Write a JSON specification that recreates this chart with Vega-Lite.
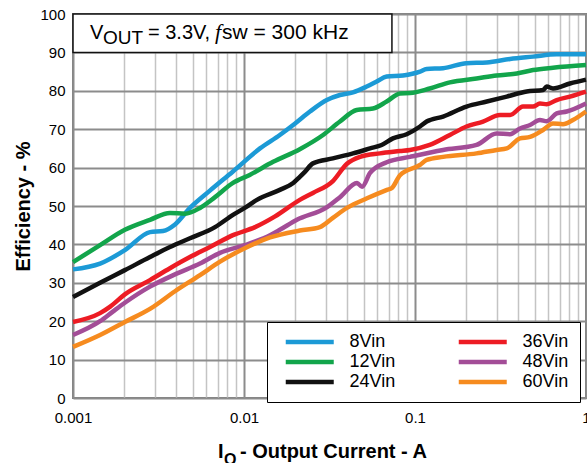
{
  "$schema": "https://vega.github.io/schema/vega-lite/v6.json",
  "width": 513,
  "height": 384,
  "autosize": {"type": "none"},
  "padding": {"left": 73, "top": 14, "right": 1, "bottom": 65},
  "background": "white",
  "config": {
    "view": {"stroke": "#808080", "strokeWidth": 2},
    "font": "Liberation Sans",
    "axis": {"labelColor": "black", "titleColor": "black", "labelFont": "Liberation Sans", "titleFont": "Liberation Sans"}
  },
  "datasets": {
    "curves": [
      {"s": "8Vin", "x": 0.001, "y": 33.5}, {"s": "8Vin", "x": 0.00144, "y": 35.0}, {"s": "8Vin", "x": 0.00201, "y": 38.5},
      {"s": "8Vin", "x": 0.00282, "y": 43.2}, {"s": "8Vin", "x": 0.00336, "y": 43.5}, {"s": "8Vin", "x": 0.00395, "y": 45.2},
      {"s": "8Vin", "x": 0.00483, "y": 49.5}, {"s": "8Vin", "x": 0.00632, "y": 54.0}, {"s": "8Vin", "x": 0.00862, "y": 59.0},
      {"s": "8Vin", "x": 0.0124, "y": 65.0}, {"s": "8Vin", "x": 0.0162, "y": 68.5}, {"s": "8Vin", "x": 0.0199, "y": 71.5},
      {"s": "8Vin", "x": 0.0243, "y": 74.6}, {"s": "8Vin", "x": 0.0305, "y": 77.6}, {"s": "8Vin", "x": 0.0364, "y": 78.9},
      {"s": "8Vin", "x": 0.0434, "y": 79.6}, {"s": "8Vin", "x": 0.0522, "y": 81.1}, {"s": "8Vin", "x": 0.0597, "y": 82.4},
      {"s": "8Vin", "x": 0.0683, "y": 83.7}, {"s": "8Vin", "x": 0.0851, "y": 84.0}, {"s": "8Vin", "x": 0.107, "y": 85.0},
      {"s": "8Vin", "x": 0.117, "y": 85.7}, {"s": "8Vin", "x": 0.146, "y": 85.9}, {"s": "8Vin", "x": 0.2, "y": 87.2},
      {"s": "8Vin", "x": 0.263, "y": 87.4}, {"s": "8Vin", "x": 0.36, "y": 88.3}, {"s": "8Vin", "x": 0.49, "y": 88.9},
      {"s": "8Vin", "x": 0.674, "y": 89.5}, {"s": "8Vin", "x": 1.0, "y": 89.5},

      {"s": "12Vin", "x": 0.001, "y": 35.4}, {"s": "12Vin", "x": 0.00144, "y": 39.8}, {"s": "12Vin", "x": 0.00201, "y": 43.8},
      {"s": "12Vin", "x": 0.00282, "y": 46.4}, {"s": "12Vin", "x": 0.00369, "y": 48.2}, {"s": "12Vin", "x": 0.00452, "y": 48.0},
      {"s": "12Vin", "x": 0.00553, "y": 49.5}, {"s": "12Vin", "x": 0.00677, "y": 52.3}, {"s": "12Vin", "x": 0.00862, "y": 56.0},
      {"s": "12Vin", "x": 0.0108, "y": 58.1}, {"s": "12Vin", "x": 0.0148, "y": 61.5}, {"s": "12Vin", "x": 0.0212, "y": 64.8},
      {"s": "12Vin", "x": 0.029, "y": 68.5}, {"s": "12Vin", "x": 0.0364, "y": 72.0}, {"s": "12Vin", "x": 0.0456, "y": 75.0},
      {"s": "12Vin", "x": 0.0568, "y": 75.4}, {"s": "12Vin", "x": 0.0683, "y": 77.2}, {"s": "12Vin", "x": 0.0817, "y": 79.3},
      {"s": "12Vin", "x": 0.0935, "y": 79.4}, {"s": "12Vin", "x": 0.122, "y": 80.6}, {"s": "12Vin", "x": 0.16, "y": 82.2},
      {"s": "12Vin", "x": 0.229, "y": 83.2}, {"s": "12Vin", "x": 0.3, "y": 84.0}, {"s": "12Vin", "x": 0.394, "y": 84.5},
      {"s": "12Vin", "x": 0.49, "y": 85.4}, {"s": "12Vin", "x": 0.641, "y": 86.0}, {"s": "12Vin", "x": 1.0, "y": 86.7},

      {"s": "24Vin", "x": 0.001, "y": 26.3}, {"s": "24Vin", "x": 0.00144, "y": 30.0}, {"s": "24Vin", "x": 0.00201, "y": 33.3},
      {"s": "24Vin", "x": 0.00282, "y": 36.7}, {"s": "24Vin", "x": 0.00369, "y": 39.3}, {"s": "24Vin", "x": 0.00483, "y": 41.6},
      {"s": "24Vin", "x": 0.00677, "y": 44.5}, {"s": "24Vin", "x": 0.00862, "y": 47.7}, {"s": "24Vin", "x": 0.0101, "y": 49.5},
      {"s": "24Vin", "x": 0.0119, "y": 51.6}, {"s": "24Vin", "x": 0.0162, "y": 54.2}, {"s": "24Vin", "x": 0.0194, "y": 56.0},
      {"s": "24Vin", "x": 0.0212, "y": 57.6}, {"s": "24Vin", "x": 0.0227, "y": 58.9}, {"s": "24Vin", "x": 0.0253, "y": 61.1},
      {"s": "24Vin", "x": 0.0331, "y": 62.4}, {"s": "24Vin", "x": 0.0434, "y": 63.7}, {"s": "24Vin", "x": 0.0546, "y": 65.0},
      {"s": "24Vin", "x": 0.0638, "y": 65.9}, {"s": "24Vin", "x": 0.0743, "y": 67.6}, {"s": "24Vin", "x": 0.0894, "y": 68.7},
      {"s": "24Vin", "x": 0.107, "y": 70.7}, {"s": "24Vin", "x": 0.117, "y": 72.0}, {"s": "24Vin", "x": 0.146, "y": 73.3},
      {"s": "24Vin", "x": 0.2, "y": 75.9}, {"s": "24Vin", "x": 0.263, "y": 77.2}, {"s": "24Vin", "x": 0.344, "y": 78.5},
      {"s": "24Vin", "x": 0.45, "y": 79.8}, {"s": "24Vin", "x": 0.561, "y": 80.2}, {"s": "24Vin", "x": 0.589, "y": 81.1},
      {"s": "24Vin", "x": 0.641, "y": 80.6}, {"s": "24Vin", "x": 0.806, "y": 81.9}, {"s": "24Vin", "x": 1.0, "y": 82.9},

      {"s": "36Vin", "x": 0.001, "y": 19.8}, {"s": "36Vin", "x": 0.00144, "y": 22.1}, {"s": "36Vin", "x": 0.00165, "y": 23.8},
      {"s": "36Vin", "x": 0.00201, "y": 27.0}, {"s": "36Vin", "x": 0.00282, "y": 30.7}, {"s": "36Vin", "x": 0.00369, "y": 33.8},
      {"s": "36Vin", "x": 0.00483, "y": 36.7}, {"s": "36Vin", "x": 0.00632, "y": 39.3}, {"s": "36Vin", "x": 0.00862, "y": 42.4},
      {"s": "36Vin", "x": 0.0116, "y": 44.5}, {"s": "36Vin", "x": 0.0152, "y": 47.3}, {"s": "36Vin", "x": 0.0212, "y": 51.6},
      {"s": "36Vin", "x": 0.0253, "y": 53.4}, {"s": "36Vin", "x": 0.0331, "y": 56.5}, {"s": "36Vin", "x": 0.04, "y": 61.0},
      {"s": "36Vin", "x": 0.0477, "y": 62.8}, {"s": "36Vin", "x": 0.0624, "y": 63.7}, {"s": "36Vin", "x": 0.0817, "y": 64.3},
      {"s": "36Vin", "x": 0.0935, "y": 64.6}, {"s": "36Vin", "x": 0.122, "y": 65.9}, {"s": "36Vin", "x": 0.16, "y": 68.5},
      {"s": "36Vin", "x": 0.2, "y": 70.7}, {"s": "36Vin", "x": 0.25, "y": 72.0}, {"s": "36Vin", "x": 0.314, "y": 73.7},
      {"s": "36Vin", "x": 0.36, "y": 73.7}, {"s": "36Vin", "x": 0.428, "y": 75.9}, {"s": "36Vin", "x": 0.49, "y": 75.9},
      {"s": "36Vin", "x": 0.538, "y": 76.7}, {"s": "36Vin", "x": 0.589, "y": 76.5}, {"s": "36Vin", "x": 0.674, "y": 77.6},
      {"s": "36Vin", "x": 0.806, "y": 78.5}, {"s": "36Vin", "x": 1.0, "y": 79.8},

      {"s": "48Vin", "x": 0.001, "y": 16.4}, {"s": "48Vin", "x": 0.00144, "y": 20.0}, {"s": "48Vin", "x": 0.00171, "y": 22.5},
      {"s": "48Vin", "x": 0.00201, "y": 24.8}, {"s": "48Vin", "x": 0.00282, "y": 29.0}, {"s": "48Vin", "x": 0.00395, "y": 32.2},
      {"s": "48Vin", "x": 0.00553, "y": 35.0}, {"s": "48Vin", "x": 0.00724, "y": 37.8}, {"s": "48Vin", "x": 0.0101, "y": 39.8},
      {"s": "48Vin", "x": 0.0142, "y": 42.4}, {"s": "48Vin", "x": 0.0162, "y": 43.8}, {"s": "48Vin", "x": 0.0204, "y": 46.4},
      {"s": "48Vin", "x": 0.0306, "y": 49.7}, {"s": "48Vin", "x": 0.0364, "y": 52.3}, {"s": "48Vin", "x": 0.0458, "y": 56.0},
      {"s": "48Vin", "x": 0.049, "y": 55.0}, {"s": "48Vin", "x": 0.0546, "y": 58.6}, {"s": "48Vin", "x": 0.0683, "y": 61.4},
      {"s": "48Vin", "x": 0.0935, "y": 62.8}, {"s": "48Vin", "x": 0.146, "y": 64.6}, {"s": "48Vin", "x": 0.229, "y": 65.9},
      {"s": "48Vin", "x": 0.3, "y": 68.9}, {"s": "48Vin", "x": 0.36, "y": 68.7}, {"s": "48Vin", "x": 0.411, "y": 70.2},
      {"s": "48Vin", "x": 0.471, "y": 71.1}, {"s": "48Vin", "x": 0.538, "y": 72.4}, {"s": "48Vin", "x": 0.589, "y": 72.1},
      {"s": "48Vin", "x": 0.674, "y": 74.1}, {"s": "48Vin", "x": 0.771, "y": 74.6}, {"s": "48Vin", "x": 1.0, "y": 76.7},

      {"s": "60Vin", "x": 0.001, "y": 13.3}, {"s": "60Vin", "x": 0.00144, "y": 16.4}, {"s": "60Vin", "x": 0.00201, "y": 19.8},
      {"s": "60Vin", "x": 0.00282, "y": 23.2}, {"s": "60Vin", "x": 0.00395, "y": 27.8}, {"s": "60Vin", "x": 0.00553, "y": 32.0},
      {"s": "60Vin", "x": 0.00724, "y": 35.5}, {"s": "60Vin", "x": 0.0101, "y": 39.0}, {"s": "60Vin", "x": 0.0142, "y": 41.8},
      {"s": "60Vin", "x": 0.0212, "y": 43.6}, {"s": "60Vin", "x": 0.0278, "y": 44.5}, {"s": "60Vin", "x": 0.0331, "y": 46.9},
      {"s": "60Vin", "x": 0.04, "y": 49.5}, {"s": "60Vin", "x": 0.0524, "y": 52.0}, {"s": "60Vin", "x": 0.0686, "y": 54.2},
      {"s": "60Vin", "x": 0.0733, "y": 54.7}, {"s": "60Vin", "x": 0.0817, "y": 58.0}, {"s": "60Vin", "x": 0.107, "y": 60.7},
      {"s": "60Vin", "x": 0.117, "y": 62.0}, {"s": "60Vin", "x": 0.146, "y": 62.8}, {"s": "60Vin", "x": 0.229, "y": 63.7},
      {"s": "60Vin", "x": 0.3, "y": 64.6}, {"s": "60Vin", "x": 0.344, "y": 65.0}, {"s": "60Vin", "x": 0.411, "y": 67.6},
      {"s": "60Vin", "x": 0.471, "y": 68.0}, {"s": "60Vin", "x": 0.561, "y": 69.8}, {"s": "60Vin", "x": 0.641, "y": 71.5},
      {"s": "60Vin", "x": 0.733, "y": 71.3}, {"s": "60Vin", "x": 0.839, "y": 72.4}, {"s": "60Vin", "x": 1.0, "y": 74.6}
    ]
  },
  "layer": [
    {
      "data": {"name": "curves"},
      "mark": {"type": "line", "strokeWidth": 4.5, "interpolate": "monotone"},
      "encoding": {
        "x": {
          "field": "x", "type": "quantitative",
          "scale": {"type": "log", "domain": [0.001, 1], "nice": false},
          "axis": {
            "values": [0.001, 0.002, 0.003, 0.004, 0.005, 0.006, 0.007, 0.008, 0.009, 0.01, 0.02, 0.03, 0.04, 0.05, 0.06, 0.07, 0.08, 0.09, 0.1, 0.2, 0.3, 0.4, 0.5, 0.6, 0.7, 0.8, 0.9, 1],
            "format": "~g",
            "labelExpr": "abs(log(datum.value)/LN10 - round(log(datum.value)/LN10)) < 0.0001 ? datum.label : ''",
            "labelOverlap": false, "labelFlush": false, "labelFontSize": 15, "labelPadding": 12,
            "ticks": false, "domain": false, "grid": true,
            "gridColor": {"condition": {"test": "abs(log(datum.value)/LN10 - round(log(datum.value)/LN10)) < 0.0001", "value": "#8c8c8c"}, "value": "#c4c4c4"},
            "gridWidth": {"condition": {"test": "abs(log(datum.value)/LN10 - round(log(datum.value)/LN10)) < 0.0001", "value": 2}, "value": 1.5},
            "title": null
          }
        },
        "y": {
          "field": "y", "type": "quantitative",
          "scale": {"domain": [0, 100], "nice": false},
          "axis": {
            "values": [0, 10, 20, 30, 40, 50, 60, 70, 80, 90, 100],
            "tickCount": 11, "labelOverlap": false,
            "labelFontSize": 15, "labelPadding": 8, "ticks": false, "domain": false,
            "grid": true, "gridColor": "#8c8c8c", "gridWidth": 2,
            "title": "Efficiency - %", "titleFontSize": 20, "titleFontWeight": "bold", "titlePadding": 6
          }
        },
        "color": {
          "field": "s", "type": "nominal",
          "scale": {
            "domain": ["8Vin", "12Vin", "24Vin", "36Vin", "48Vin", "60Vin"],
            "range": ["#1c9ad6", "#12a54b", "#111111", "#ed1c24", "#a34d97", "#f68b1f"]
          },
          "legend": {
            "orient": "none",
            "legendX": 194,
            "legendY": 308,
            "title": null,
            "columns": 2,
            "symbolType": "M-4,0H4",
            "symbolSize": 144,
            "symbolStrokeWidth": 4.5,
            "symbolOffset": 22.75,
            "labelFont": "Liberation Sans",
            "labelFontSize": 18,
            "labelColor": "black",
            "labelOffset": 30.75,
            "labelLimit": 0,
            "labelExpr": "datum.label == '8Vin' ? '\u20078Vin' : datum.label",
            "columnPadding": 53,
            "rowPadding": 2,
            "padding": 11,
            "strokeColor": "black",
            "fillColor": "white"
          }
        }
      }
    },
    {
      "data": {"values": [{}]},
      "mark": {"type": "rect", "fill": "white", "stroke": "#111111", "strokeWidth": 1.5},
      "encoding": {
        "x": {"datum": 0.001, "type": "quantitative"},
        "x2": {"datum": 0.0733},
        "y": {"datum": 90, "type": "quantitative"},
        "y2": {"datum": 100}
      }
    },
    {
      "data": {"values": [{}]},
      "mark": {"type": "text", "text": "V", "align": "left", "baseline": "alphabetic", "dx": 17, "fontSize": 20, "font": "Liberation Sans", "color": "black"},
      "encoding": {"x": {"datum": 0.001, "type": "quantitative"}, "y": {"datum": 93.5, "type": "quantitative"}}
    },
    {
      "data": {"values": [{}]},
      "mark": {"type": "text", "text": "OUT", "align": "left", "baseline": "alphabetic", "dx": 30, "dy": 5, "fontSize": 19, "font": "Liberation Sans", "color": "black"},
      "encoding": {"x": {"datum": 0.001, "type": "quantitative"}, "y": {"datum": 93.5, "type": "quantitative"}}
    },
    {
      "data": {"values": [{}]},
      "mark": {"type": "text", "text": "= 3.3V,", "align": "left", "baseline": "alphabetic", "dx": 75, "fontSize": 20, "font": "Liberation Sans", "color": "black"},
      "encoding": {"x": {"datum": 0.001, "type": "quantitative"}, "y": {"datum": 93.5, "type": "quantitative"}}
    },
    {
      "data": {"values": [{}]},
      "mark": {"type": "text", "text": "f", "align": "left", "baseline": "alphabetic", "dx": 142, "fontSize": 22, "font": "Liberation Serif", "fontStyle": "italic", "color": "black"},
      "encoding": {"x": {"datum": 0.001, "type": "quantitative"}, "y": {"datum": 93.5, "type": "quantitative"}}
    },
    {
      "data": {"values": [{}]},
      "mark": {"type": "text", "text": "sw = 300 kHz", "align": "left", "baseline": "alphabetic", "dx": 149, "fontSize": 21, "font": "Liberation Sans", "color": "black"},
      "encoding": {"x": {"datum": 0.001, "type": "quantitative"}, "y": {"datum": 93.5, "type": "quantitative"}}
    },
    {
      "data": {"values": [{}]},
      "mark": {"type": "text", "text": "I", "align": "left", "baseline": "alphabetic", "dx": 145, "fontSize": 20, "fontWeight": "bold", "font": "Liberation Sans", "color": "black"},
      "encoding": {"x": {"datum": 0.001, "type": "quantitative"}, "y": {"datum": -15.6, "type": "quantitative"}}
    },
    {
      "data": {"values": [{}]},
      "mark": {"type": "text", "text": "O", "align": "left", "baseline": "alphabetic", "dx": 151, "dy": 7, "fontSize": 16, "fontWeight": "bold", "font": "Liberation Sans", "color": "black"},
      "encoding": {"x": {"datum": 0.001, "type": "quantitative"}, "y": {"datum": -15.6, "type": "quantitative"}}
    },
    {
      "data": {"values": [{}]},
      "mark": {"type": "text", "text": "- Output Current - A", "align": "left", "baseline": "alphabetic", "dx": 167, "fontSize": 20, "fontWeight": "bold", "font": "Liberation Sans", "color": "black"},
      "encoding": {"x": {"datum": 0.001, "type": "quantitative"}, "y": {"datum": -15.6, "type": "quantitative"}}
    }
  ]
}
